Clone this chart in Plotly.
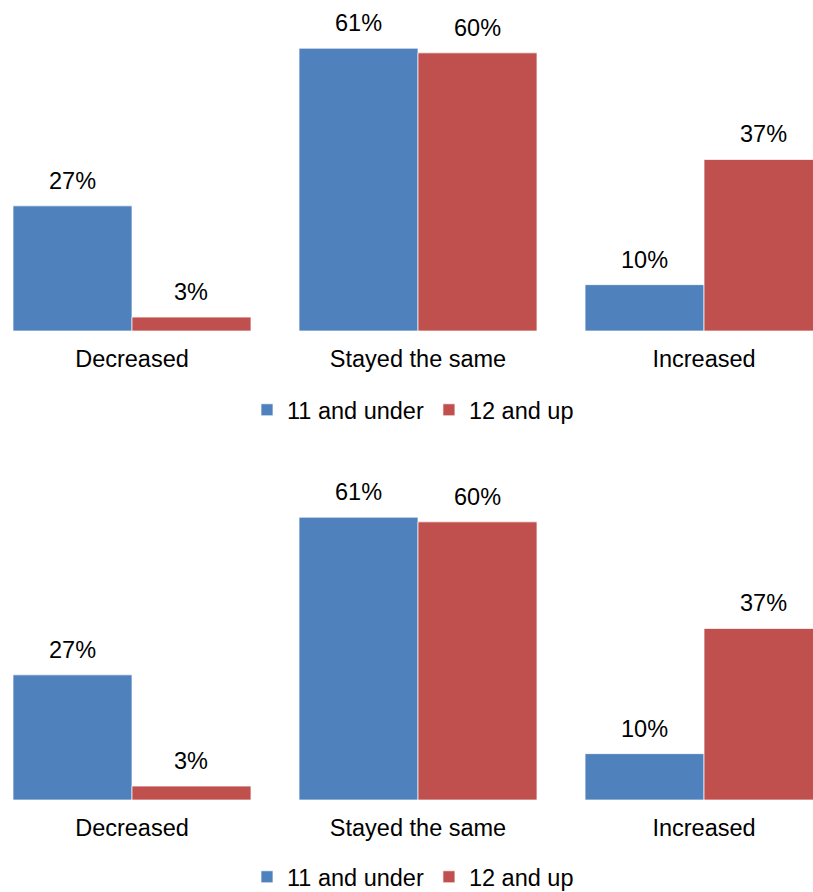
import plotly.graph_objects as go
from plotly.subplots import make_subplots

# Share of respondents by change category, split by age group
categories = ["Decreased", "Stayed the same", "Increased"]
series_names = ["11 and under", "12 and up"]
values_young = [27, 61, 10]
values_older = [3, 60, 37]
series_values = [values_young, values_older]
series_colors = ["#4F81BD", "#C0504D"]

FONT = "Liberation Sans, Arial, sans-serif"
FS = 23.5
BARGAP = 0.168
W, H = 813, 892

fig = make_subplots(rows=2, cols=1)

for row in (1, 2):
    legend_id = "legend" if row == 1 else "legend2"
    for name, vals, color in zip(series_names, series_values, series_colors):
        fig.add_trace(
            go.Bar(
                x=categories, y=vals, name=name,
                marker=dict(color=color, line=dict(color="rgba(255,255,255,0.7)", width=1)),
                legend=legend_id, showlegend=True,
            ),
            row=row, col=1,
        )
    # value labels above each bar
    half = (1 - BARGAP) / 4
    for s, vals in enumerate(series_values):
        offset = -half if s == 0 else half
        for i, v in enumerate(vals):
            fig.add_annotation(
                x=i + offset, y=v, text=f"{v}%", showarrow=False,
                yanchor="middle", yshift=25,
                font=dict(family=FONT, size=FS, color="black"),
                row=row, col=1,
            )

# panel geometry (paper fractions)
y_top = 71.4
fig.update_yaxes(range=[0, y_top], visible=False, showgrid=False, zeroline=False)
fig.update_xaxes(
    range=[-0.4615, 2.381], showline=False, ticks="", showgrid=False, zeroline=False,
    tickfont=dict(family=FONT, size=FS, color="black"), domain=[0, 1],
    ticklabelstandoff=11, automargin=False,
)
fig.update_layout(
    yaxis=dict(domain=[(H - 331) / H, 1.0]),
    yaxis2=dict(domain=[(H - 800) / H, (H - 469) / H]),
)

legend_common = dict(
    orientation="h", xanchor="left", yanchor="middle", x=247 / W,
    font=dict(family=FONT, size=FS, color="black"),
    bgcolor="rgba(0,0,0,0)", traceorder="normal",
)
fig.update_layout(
    width=W, height=H,
    margin=dict(l=0, r=0, t=0, b=0, autoexpand=False),
    paper_bgcolor="white", plot_bgcolor="white",
    barmode="group", bargap=BARGAP, bargroupgap=0,
    font=dict(family=FONT, size=FS, color="black"),
    legend=dict(legend_common, y=1 - 410 / H),
    legend2=dict(legend_common, y=1 - 877 / H),
)

fig.write_html("out.html")
